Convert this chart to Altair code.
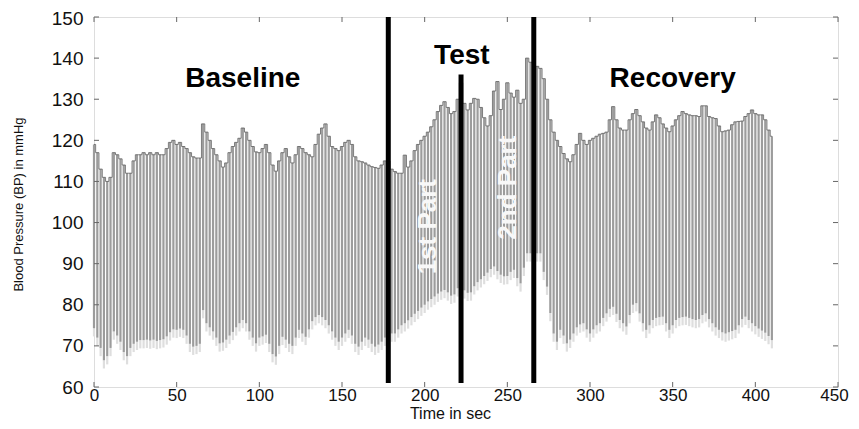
import altair as alt
import pandas as pd

# Beat times (s) and beat-by-beat pressure values
TIME = list(range(0, 411, 2))
SYSTOLIC = [
    119, 117, 113, 111, 110, 111, 117, 116.5, 115.5, 114,
    112, 112, 115, 116.5, 116.5, 117, 116.5, 117, 116.5, 117,
    116.5, 116.5, 118, 119.5, 120, 119, 119.5, 118.5, 118, 117,
    116, 115.7, 115.7, 124, 122, 120, 118, 116.5, 115, 113.5,
    114.5, 117, 118.5, 119.5, 120.5, 123, 122, 120, 118.5, 117.2,
    117, 118, 119, 117, 114, 112.5, 115, 117, 118, 116,
    114.5, 116.5, 118.5, 118, 117, 116.5, 116, 119, 121.5, 123,
    124, 121, 118.5, 118, 117.5, 118.5, 119.5, 120, 119, 116,
    115, 114.8, 114.5, 114, 113.6, 113.4, 113.2, 114, 115, 115,
    113, 112.4, 112, 112, 116.4, 113.5, 115, 117.5, 119, 120,
    121, 122, 123.3, 125, 127, 128.5, 129.4, 128, 126.5, 127,
    130, 134, 129, 127.4, 129, 130.2, 130, 128, 125.5, 123.5,
    126, 132, 134.3, 127.5, 130, 134, 131.5, 130.5, 132.2, 129,
    130, 140, 139, 138.7, 138, 137.5, 135, 130, 125, 122,
    120, 118.5, 116.8, 115.5, 114.8, 116.5, 119, 121.7, 120, 119,
    120, 120.5, 121, 121.5, 121.7, 122, 125, 128.2, 125, 123,
    122.5, 122.5, 125, 126.5, 127.5, 126, 124.5, 123, 122.5, 124.5,
    126.2, 125.5, 124, 123, 122.1, 123.5, 125, 126, 127, 126.5,
    126.2, 126, 126, 125.8, 128.4, 128.4, 125.8, 125.5, 125.3, 123.5,
    122.1, 122.3, 122.5, 123.8, 124.5, 124.6, 124.7, 125.8, 126.5, 127.4,
    126.5, 126.2, 126.2, 125, 122.5, 121,
]
DIASTOLIC = [
    74.3, 72, 69.5, 66.5, 67.5, 69.5, 73.5, 72.5, 71, 68.5,
    67.5, 69.5, 70.5, 71, 71.4, 71.4, 71.5, 71.3, 71.5, 71.2,
    71.4, 71.6, 72.3, 73.3, 74, 73.9, 74.2, 73.9, 72.5, 70.5,
    69.8, 70, 70.5, 78.7, 75.5, 74.5, 73.5, 72, 70.6, 70.8,
    71.5, 72.5, 73.4, 74.5, 75.5, 76.3, 75.5, 73.5, 72, 70.6,
    72, 72.3, 72.7, 70.5, 68, 67.4, 70, 72.2, 71.5, 70.5,
    70, 72, 73.9, 73, 72.2, 74, 76, 77, 77.5, 77,
    76.3, 75, 73.5, 72, 71, 72, 73, 73.9, 72.5, 70.5,
    69.8, 71, 72, 71.5, 70.5, 69.8, 70.3, 71, 72, 73,
    73, 73, 74, 75, 75.5, 76.2, 77, 77.8, 78.5, 79.3,
    80, 80.8, 81.4, 82, 82.7, 83.2, 83.6, 83, 82.2, 82.5,
    84, 84.4, 83.5, 82.9, 83, 84.5, 85.5, 86.2, 87, 87.8,
    88.7, 89.3, 88.2, 87.3, 86.9, 87, 88, 88.5, 86.5, 85.2,
    89, 92.5, 92.5, 92.5, 92.5, 92.5, 88, 84.4, 78, 73,
    71, 73.9, 72.5, 70.6, 71.5, 73, 74.5, 75.2, 75.5, 74,
    73, 74, 75, 75.5, 76.8, 77.9, 79, 79.5, 77.8, 76.3,
    75.5, 74.7, 77.5, 80, 80.4, 77.9, 75.5, 73.9, 75, 76.3,
    76.8, 77, 77.1, 75.5, 73.9, 75, 76.3, 76.8, 77, 77.1,
    76.8, 76.5, 76.3, 76.5, 77.5, 77.9, 76.5, 75.5, 74.5, 73.9,
    73.3, 73, 73.3, 73.6, 73.9, 75, 76.5, 77.1, 76.3, 75.5,
    74.8, 74.2, 73.7, 73.2, 72.4, 71.4,
]

MARKER_X = [178, 222, 266]
MARKER_TOP = [150, 136, 150]
MARKER_BOTTOM = [61, 61, 61]

PHASES = ["Baseline", "Test", "Recovery"]
PHASE_X = [90, 222.5, 350]
PHASE_Y = [135, 140.5, 135]

PARTS = ["1st Part", "2nd Part"]
PART_X = [202, 250.5]
PART_Y = [99, 108.5]

Y_TICKS = [60, 70, 80, 90, 100, 110, 120, 130, 140, 150]
X_TICKS = [0, 50, 100, 150, 200, 250, 300, 350, 400, 450]

FONT = "Liberation Sans"
W, H = 744, 370

beats_df = pd.DataFrame({"t": TIME, "sys": SYSTOLIC, "dia": DIASTOLIC})
markers_df = pd.DataFrame({"t": MARKER_X, "top": MARKER_TOP, "bottom": MARKER_BOTTOM})
phases_df = pd.DataFrame({"label": PHASES, "t": PHASE_X, "v": PHASE_Y})
parts_df = pd.DataFrame({"label": PARTS, "t": PART_X, "v": PART_Y})
yt_df = pd.DataFrame({"v": Y_TICKS})
xt_df = pd.DataFrame({"t": X_TICKS})

xs = alt.Scale(domain=[0, 450], nice=False, zero=False)
ys = alt.Scale(domain=[60, 150], nice=False, zero=False)

x_axis = alt.Axis(values=X_TICKS, title="Time in sec", ticks=False, domain=False, grid=False,
                  labelFontSize=17, labelPadding=0, labelColor="#111", titleFontSize=16,
                  titleFontWeight="normal", titleColor="#111", titleX=356, titleY=26,
                  titleBaseline="middle", labelFlush=False,
                  labelOffset={"condition": {"test": "datum.value == 450", "value": -4}, "value": 0})
y_axis = alt.Axis(values=Y_TICKS, title="Blood Pressure (BP) in mmHg", ticks=False, domain=False,
                  grid=False, labelFontSize=19, labelPadding=11, labelColor="#111",
                  titleFontSize=13, titleFontWeight="normal", titleColor="#111",
                  titleX=-76, titleY=187, titleBaseline="middle", titleAlign="center",
                  titleAngle=270,
                  labelOffset={"condition": {"test": "datum.value == 150", "value": 1}, "value": 0})


def XA(field="t:Q"):
    return alt.X(field, scale=xs, axis=x_axis)


def YA(field):
    return alt.Y(field, scale=ys, axis=y_axis)


base = alt.Chart(beats_df)

fringe = base.transform_calculate(low="datum.dia - 2").mark_rule(
    color="#dedede", strokeWidth=2.2
).encode(x=XA(), y=YA("low:Q"), y2="dia:Q")

beats = base.mark_rule(color="#9c9c9c", strokeWidth=2.2).encode(
    x=XA(), y=YA("dia:Q"), y2="sys:Q"
)

top = base.mark_line(interpolate="step", color="#5c5c5c", strokeWidth=0.8).encode(
    x=XA(), y=YA("sys:Q")
)

markers = alt.Chart(markers_df).mark_rule(color="black", strokeWidth=5).encode(
    x=XA(), y=YA("bottom:Q"), y2="top:Q"
)

phase_text = alt.Chart(phases_df).mark_text(
    font=FONT, fontSize=28, fontWeight="bold", color="black", baseline="middle", align="center"
).encode(x=XA(), y=YA("v:Q"), text="label:N")

part_text = alt.Chart(parts_df).mark_text(
    font=FONT, fontSize=26, fontWeight="bold", color="#f8f8f8", baseline="middle",
    align="center", angle=270
).encode(x=XA(), y=YA("v:Q"), text="label:N")

tick_col = "#666"
left_ticks = alt.Chart(yt_df).mark_rule(color=tick_col, strokeWidth=1).encode(
    y=YA("v:Q"), x=alt.value(0), x2=alt.value(5))
right_ticks = alt.Chart(yt_df).mark_rule(color=tick_col, strokeWidth=1).encode(
    y=YA("v:Q"), x=alt.value(W - 5), x2=alt.value(W))
bottom_ticks = alt.Chart(xt_df).mark_rule(color=tick_col, strokeWidth=1).encode(
    x=XA(), y=alt.value(H - 5), y2=alt.value(H))
top_ticks = alt.Chart(xt_df).mark_rule(color=tick_col, strokeWidth=1).encode(
    x=XA(), y=alt.value(0), y2=alt.value(5))

chart = alt.layer(
    fringe, beats, top, markers, phase_text, part_text,
    left_ticks, right_ticks, bottom_ticks, top_ticks
).properties(
    width=W, height=H,
    autosize=alt.AutoSizeParams(type="none"),
    padding={"left": 86, "top": 9, "right": 13, "bottom": 34},
).configure_view(
    stroke="#808080", strokeWidth=1
).configure_axis(
    labelFont=FONT, titleFont=FONT
).configure(background="white")

chart.save("out.html", embed_options={"renderer": "svg", "actions": False})
